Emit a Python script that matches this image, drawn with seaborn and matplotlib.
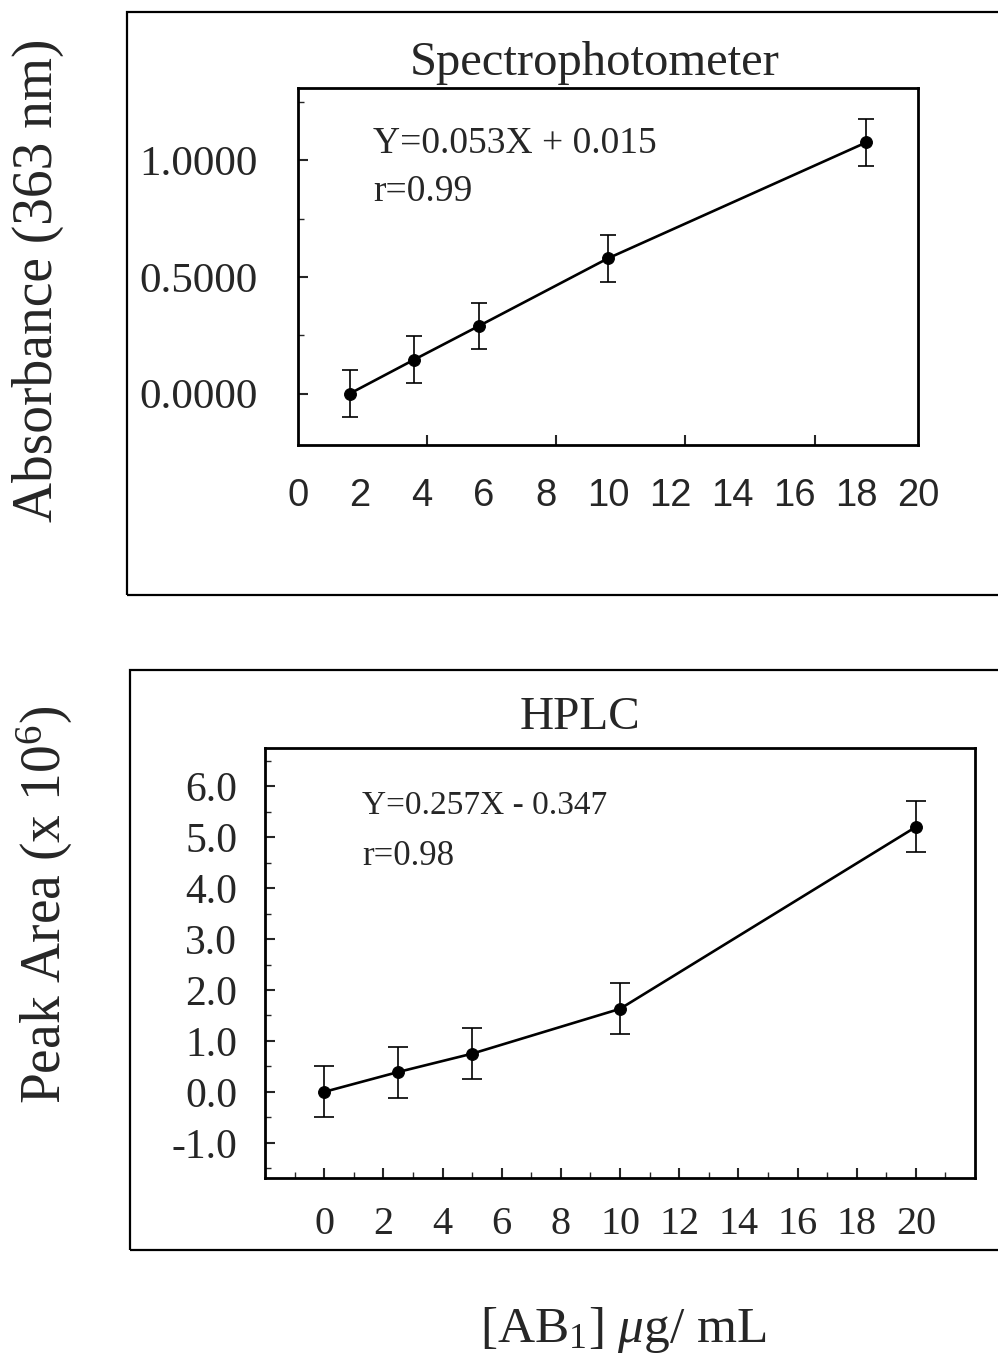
import numpy as np
import pandas as pd
import matplotlib
matplotlib.use("Agg")
import matplotlib.pyplot as plt
from matplotlib.patches import Rectangle
from matplotlib.ticker import MultipleLocator
import seaborn as sns

# =====================================================
# DATA
# =====================================================

conc = [0, 2.5, 5, 10, 20]

spec_abs = [0.0, 0.146, 0.29, 0.58, 1.077]
spec_err = [0.10, 0.10, 0.10, 0.10, 0.10]

hplc_area = [0.0, 0.39, 0.75, 1.63, 5.2]
hplc_err = [0.5, 0.5, 0.5, 0.5, 0.5]

label_ticks = list(range(0, 21, 2))

# =====================================================
# STYLE
# =====================================================

sns.set_theme(style="ticks")
plt.rcParams["font.family"] = ["Liberation Serif", "DejaVu Serif"]
plt.rcParams["mathtext.fontset"] = "custom"
plt.rcParams["mathtext.rm"] = "Liberation Serif"
plt.rcParams["mathtext.it"] = "Liberation Serif:italic"

W, H = 998, 1361
fig = plt.figure(figsize=(W / 100, H / 100), dpi=100)
fig.patch.set_facecolor("white")


def fx(px):
    return px / W


def fy(py):
    return 1 - py / H


# outer frames (they run off the right edge in the reference)
fig.add_artist(Rectangle((fx(127), fy(595)), 0.2 + 1 - fx(127), (595 - 12) / H,
                         transform=fig.transFigure, fill=False, lw=1.6, color="black"))
fig.add_artist(Rectangle((fx(130), fy(1250)), 0.2 + 1 - fx(130), (1250 - 670) / H,
                         transform=fig.transFigure, fill=False, lw=1.6, color="black"))


def draw_series(ax, x, y, err, capsize):
    ax.errorbar(x, y, yerr=err, fmt="none", ecolor="black",
                elinewidth=1.2, capsize=capsize, capthick=1.2, zorder=2)
    sns.lineplot(x=x, y=y, ax=ax, color="black", lw=1.9, marker="o",
                 markersize=8.5, markeredgecolor="black", zorder=3)


def frame(ax):
    for s in ax.spines.values():
        s.set_visible(True)
        s.set_linewidth(2.0)
        s.set_color("black")


# =====================================================
# TOP: SPECTROPHOTOMETER
# =====================================================

ax1 = fig.add_axes([fx(298), fy(445), (918 - 298) / W, (445 - 88) / H])
draw_series(ax1, conc, spec_abs, spec_err, capsize=6)
frame(ax1)
ax1.set_xlim(-2, 22)
ax1.set_ylim(-0.22, 1.31)
ax1.set_xticks([3, 8, 13, 18])
ax1.set_xticklabels([])
ax1.set_yticks([0.0, 0.5, 1.0])
ax1.yaxis.set_minor_locator(MultipleLocator(0.25))
ax1.yaxis.set_major_formatter(matplotlib.ticker.FormatStrFormatter("%.4f"))
ax1.tick_params(axis="x", direction="in", length=7, width=1.5, bottom=True)
ax1.tick_params(axis="y", which="major", direction="in", length=7, width=1.5,
                pad=29, labelsize=31)
ax1.tick_params(axis="y", which="minor", direction="in", length=4, width=1.0)
ax1.set_xlabel("")
ax1.set_ylabel("")

# evenly spaced concentration labels under the top panel
ax1b = ax1.twiny()
ax1b.set_xlim(0, 20)
ax1b.set_xticks(label_ticks)
ax1b.xaxis.tick_bottom()
ax1b.tick_params(axis="x", length=0, pad=24, labelsize=27.5,
                 labelfontfamily="Liberation Sans")
for s in ax1b.spines.values():
    s.set_visible(False)

ax1.text(0.479, 1.07, "Spectrophotometer", transform=ax1.transAxes,
         ha="center", va="center", fontsize=35)
ax1.text(0.121, 0.845, "Y=0.053X + 0.015", transform=ax1.transAxes,
         ha="left", va="center", fontsize=27)
ax1.text(0.121, 0.708, "r=0.99", transform=ax1.transAxes,
         ha="left", va="center", fontsize=27)

# =====================================================
# BOTTOM: HPLC
# =====================================================

ax2 = fig.add_axes([fx(265), fy(1178), (975 - 265) / W, (1178 - 748) / H])
draw_series(ax2, conc, hplc_area, hplc_err, capsize=7)
frame(ax2)
ax2.set_xlim(-2, 22)
ax2.set_ylim(-1.69, 6.75)
ax2.set_xticks(label_ticks)
ax2.xaxis.set_minor_locator(MultipleLocator(1))
ax2.set_yticks(np.arange(-1, 7, 1))
ax2.yaxis.set_minor_locator(MultipleLocator(0.5))
ax2.yaxis.set_major_formatter(matplotlib.ticker.FormatStrFormatter("%.1f"))
ax2.tick_params(axis="both", which="major", direction="in", length=7, width=1.5)
ax2.tick_params(axis="both", which="minor", direction="in", length=4, width=1.0)
ax2.tick_params(axis="x", which="major", pad=20, labelsize=29)
ax2.tick_params(axis="y", which="major", pad=20, labelsize=30)
ax2.set_xlabel("")
ax2.set_ylabel("")

ax2.text(0.444, 1.07, "HPLC", transform=ax2.transAxes,
         ha="center", va="center", fontsize=34)
ax2.text(0.137, 0.865, "Y=0.257X - 0.347", transform=ax2.transAxes,
         ha="left", va="center", fontsize=24)
ax2.text(0.137, 0.747, "r=0.98", transform=ax2.transAxes,
         ha="left", va="center", fontsize=25)

# =====================================================
# SHARED AXIS TITLES
# =====================================================

fig.text(fx(38), fy(280), "Absorbance (363 nm)", rotation=90,
         ha="center", va="center", fontsize=40)
fig.text(fx(45), fy(905), "Peak Area (x 10$^6$)", rotation=90,
         ha="center", va="center", fontsize=40)
fig.text(fx(623), fy(1330), "[AB$_1$] $\\mu$g/ mL",
         ha="center", va="center", fontsize=37)

fig.savefig("out.png", dpi=100, facecolor="white")
